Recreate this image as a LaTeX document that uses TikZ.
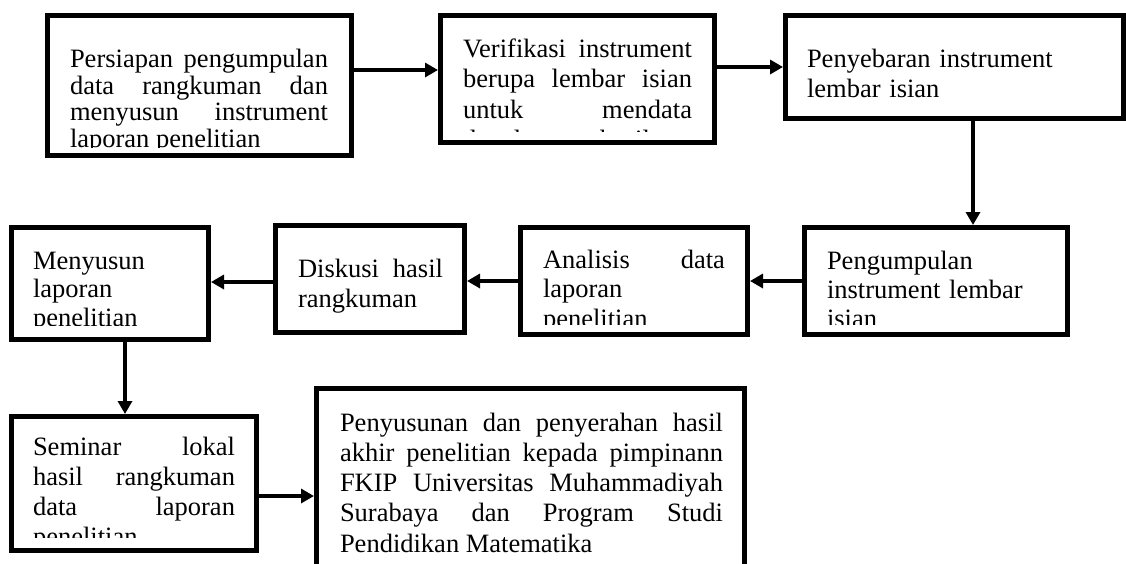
\documentclass[tikz,border=0pt]{standalone}
\usepackage{fontspec}
\setmainfont{Liberation Serif}
\usetikzlibrary{arrows.meta}
\newcommand{\boxfont}[1]{\fontsize{26.5}{#1}\selectfont}
\tikzset{
  box/.style={draw=black, line width=5pt, inner sep=0pt, rectangle},
  conn/.style={line width=3.5pt, -{Triangle[length=13pt,width=14pt]}},
  txt/.style={anchor=north west, inner sep=0pt, outer sep=0pt},
}
\begin{document}
\begin{tikzpicture}[x=1pt,y=-1pt]
\useasboundingbox (0,0) rectangle (1126,563);
\fill[white] (0,0) rectangle (1126,563);
\begin{scope}
\clip (0,0) rectangle (1126,563);
% boxes
\node[box, minimum width=304pt, minimum height=140pt] (b1) at (199.5,85.5) {};
\node[box, minimum width=274pt, minimum height=127pt] (b2) at (577.5,79) {};
\node[box, minimum width=337.5pt, minimum height=103pt] (b3) at (954.25,67) {};
\node[box, minimum width=263pt, minimum height=107pt] (b4) at (936,281) {};
\node[box, minimum width=227pt, minimum height=107pt] (b5) at (634,281) {};
\node[box, minimum width=189pt, minimum height=107pt] (b6) at (370,279) {};
\node[box, minimum width=197pt, minimum height=112pt] (b7) at (110,283.5) {};
\node[box, minimum width=245pt, minimum height=134pt] (b8) at (134,483.5) {};
\node[box, minimum width=428pt, minimum height=211.5pt] (b9) at (530.5,494.25) {};
% texts
\begin{scope}
\clip (50,18) rectangle (349,147);
\node[txt, text width=258pt, align=justify, font=\boxfont{26.5}] (t1) at (70,47.5)
  {\rule{0pt}{20pt}Persiapan pengumpulan\linebreak data rangkuman dan\linebreak menyusun instrument\linebreak laporan penelitian};
\end{scope}
\begin{scope}
\clip (443,18) rectangle (712,131);
\node[txt, text width=229pt, align=justify, font=\boxfont{30.5}] (t2) at (463,37)
  {\rule{0pt}{20pt}Verifikasi instrument\linebreak berupa lembar isian\linebreak untuk mendata\linebreak data laporan hasil};
\end{scope}
\node[txt, text width=280pt, align=left, font=\boxfont{30}] (t3) at (807,47)
  {\rule{0pt}{20pt}Penyebaran instrument\\lembar isian};
\begin{scope}
\clip (807,230) rectangle (1065,324);
\node[txt, text width=230pt, align=left, font=\boxfont{29}] (t4) at (827,249)
  {\rule{0pt}{20pt}Pengumpulan\\instrument lembar\\isian};
\end{scope}
\begin{scope}
\clip (523,230) rectangle (745,324);
\node[txt, text width=182pt, align=justify, font=\boxfont{29.5}] (t5) at (543,248)
  {\rule{0pt}{20pt}Analisis data\linebreak laporan\linebreak penelitian};
\end{scope}
\node[txt, text width=145pt, align=justify, font=\boxfont{30}] (t6) at (298,257)
  {\rule{0pt}{20pt}Diskusi hasil\linebreak rangkuman};
\begin{scope}
\clip (14,230) rectangle (206,325);
\node[txt, text width=170pt, align=left, font=\boxfont{28.5}] (t7) at (33,249)
  {\rule{0pt}{20pt}Menyusun\\laporan\\penelitian};
\end{scope}
\begin{scope}
\clip (14,419) rectangle (254,537);
\node[txt, text width=202pt, align=justify, font=\boxfont{30}] (t8) at (33,435)
  {\rule{0pt}{20pt}Seminar lokal\linebreak hasil rangkuman\linebreak data laporan\linebreak penelitian};
\end{scope}
\node[txt, text width=383pt, align=justify, font=\boxfont{30.3}] (t9) at (340,411)
  {\rule{0pt}{20pt}Penyusunan dan penyerahan hasil\linebreak akhir penelitian kepada pimpinann\linebreak FKIP Universitas Muhammadiyah\linebreak Surabaya dan Program Studi\linebreak Pendidikan Matematika};
% connectors
\draw[conn] (b1.east |- 0,70) -- (b2.west |- 0,70);
\draw[conn] (b2.east |- 0,67) -- (b3.west |- 0,67);
\draw[conn] (b3.south -| 973,0) -- (b4.north -| 973,0);
\draw[conn] (b4.west |- 0,281) -- (b5.east |- 0,281);
\draw[conn] (b5.west |- 0,281) -- (b6.east |- 0,281);
\draw[conn] (b6.west |- 0,282) -- (b7.east |- 0,282);
\draw[conn] (b7.south -| 125,0) -- (b8.north -| 125,0);
\draw[conn] (b8.east |- 0,496) -- (b9.west |- 0,496);
\end{scope}
\end{tikzpicture}
\end{document}
